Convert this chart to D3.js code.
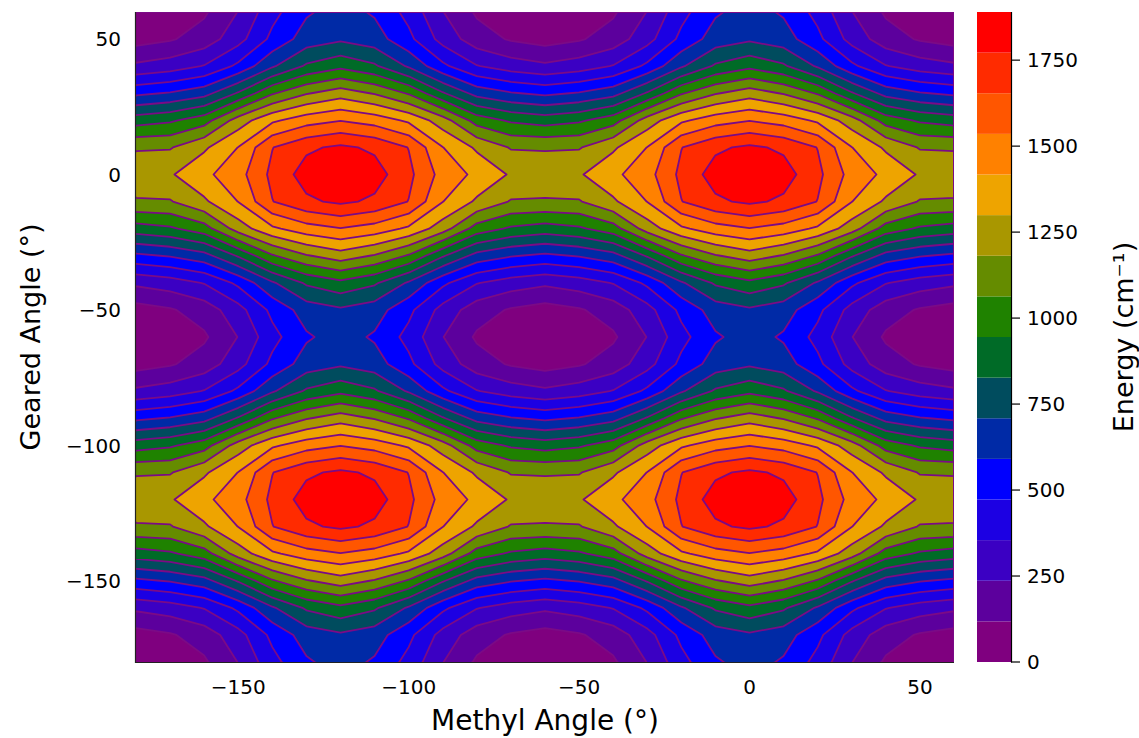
<!DOCTYPE html>
<html>
<head>
<meta charset="utf-8">
<script src="https://cdn.jsdelivr.net/npm/d3@7/dist/d3.min.js"></script>
<style>
	body { margin: 0; background: #fff; }
	text { font-family: "DejaVu Sans", sans-serif; fill: #000; }
</style>
</head>
<body>
<div id="viz"></div>
<script>
// grid axes (degrees)
methylAngles = [-180,-170,-160,-150,-140,-130,-120,-110,-100,-90,-80,-70,-60,-50,-40,-30,-20,-10,0,10,20,30,40,50,60];
gearedAngles = [-180,-170,-160,-150,-140,-130,-120,-110,-100,-90,-80,-70,-60,-50,-40,-30,-20,-10,0,10,20,30,40,50,60];

// energy (cm^-1), one row per geared angle (from -180 up to 60), one column per methyl angle
energy = [
	[0,36,101,240,434,575,640,575,434,240,101,36,0,36,101,240,434,575,640,575,434,240,101,36,0],
	[70,106,171,310,504,645,690,645,504,310,171,106,70,106,171,310,504,645,690,645,504,310,171,106,70],
	[260,296,361,500,694,845,915,845,694,500,361,296,260,296,361,500,694,845,915,845,694,500,361,296,260],
	[565,601,666,840,1050,1170,1245,1170,1050,840,666,601,565,601,666,840,1050,1170,1245,1170,1050,840,666,601,565],
	[890,926,1010,1235,1395,1485,1530,1485,1395,1235,1010,926,890,926,1010,1235,1395,1485,1530,1485,1395,1235,1010,926,890],
	[1170,1172,1280,1420,1650,1750,1795,1750,1650,1420,1280,1172,1170,1172,1280,1420,1650,1750,1795,1750,1650,1420,1280,1172,1170],
	[1250,1286,1390,1490,1684,1825,1890,1825,1684,1490,1390,1286,1250,1286,1390,1490,1684,1825,1890,1825,1684,1490,1390,1286,1250],
	[1170,1172,1280,1420,1650,1750,1795,1750,1650,1420,1280,1172,1170,1172,1280,1420,1650,1750,1795,1750,1650,1420,1280,1172,1170],
	[890,926,1010,1235,1395,1485,1530,1485,1395,1235,1010,926,890,926,1010,1235,1395,1485,1530,1485,1395,1235,1010,926,890],
	[565,601,666,840,1050,1170,1245,1170,1050,840,666,601,565,601,666,840,1050,1170,1245,1170,1050,840,666,601,565],
	[260,296,361,500,694,845,915,845,694,500,361,296,260,296,361,500,694,845,915,845,694,500,361,296,260],
	[70,106,171,310,504,645,690,645,504,310,171,106,70,106,171,310,504,645,690,645,504,310,171,106,70],
	[0,36,101,240,434,575,640,575,434,240,101,36,0,36,101,240,434,575,640,575,434,240,101,36,0],
	[70,106,171,310,504,645,690,645,504,310,171,106,70,106,171,310,504,645,690,645,504,310,171,106,70],
	[260,296,361,500,694,845,915,845,694,500,361,296,260,296,361,500,694,845,915,845,694,500,361,296,260],
	[565,601,666,840,1050,1170,1245,1170,1050,840,666,601,565,601,666,840,1050,1170,1245,1170,1050,840,666,601,565],
	[890,926,1010,1235,1395,1485,1530,1485,1395,1235,1010,926,890,926,1010,1235,1395,1485,1530,1485,1395,1235,1010,926,890],
	[1170,1172,1280,1420,1650,1750,1795,1750,1650,1420,1280,1172,1170,1172,1280,1420,1650,1750,1795,1750,1650,1420,1280,1172,1170],
	[1250,1286,1390,1490,1684,1825,1890,1825,1684,1490,1390,1286,1250,1286,1390,1490,1684,1825,1890,1825,1684,1490,1390,1286,1250],
	[1170,1172,1280,1420,1650,1750,1795,1750,1650,1420,1280,1172,1170,1172,1280,1420,1650,1750,1795,1750,1650,1420,1280,1172,1170],
	[890,926,1010,1235,1395,1485,1530,1485,1395,1235,1010,926,890,926,1010,1235,1395,1485,1530,1485,1395,1235,1010,926,890],
	[565,601,666,840,1050,1170,1245,1170,1050,840,666,601,565,601,666,840,1050,1170,1245,1170,1050,840,666,601,565],
	[260,296,361,500,694,845,915,845,694,500,361,296,260,296,361,500,694,845,915,845,694,500,361,296,260],
	[70,106,171,310,504,645,690,645,504,310,171,106,70,106,171,310,504,645,690,645,504,310,171,106,70],
	[0,36,101,240,434,575,640,575,434,240,101,36,0,36,101,240,434,575,640,575,434,240,101,36,0]
];

xTicks = [-150, -100, -50, 0, 50];
yTicks = [-150, -100, -50, 0, 50];
cbTicks = [0, 250, 500, 750, 1000, 1250, 1500, 1750];
nBands = 16;

// band colours, lowest to highest
colors = ['#7f007f','#5c009d','#3b00c3','#1c00e3','#0000fe','#002aa6','#004c5e','#006b27',
		'#1f8200','#658c00','#a99700','#eea400','#ff8100','#ff5600','#ff2b00','#ff0000'];
lineColor = '#7b0a86';

W = 1139; H = 738;
plot = {left: 136, right: 954, top: 12, bottom: 662};
cb = {left: 977, right: 1011};

svg = d3.select('#viz').append('svg')
	.attr('width', W)
	.attr('height', H);

xScale = d3.scaleLinear().domain([-180, 60]).range([plot.left, plot.right]);
yScale = d3.scaleLinear().domain([-180, 60]).range([plot.bottom, plot.top]);

nx = methylAngles.length;
ny = gearedAngles.length;
values = [];
energy.forEach(function(row){ row.forEach(function(v){ values.push(v); }); });

eMin = d3.min(values);
eMax = d3.max(values);
levels = d3.range(nBands + 1).map(function(k){ return eMin + k * (eMax - eMin) / nBands; });

// contour grid coords: grid point i sits at i + 0.5
gx = d3.scaleLinear().domain([0.5, nx - 0.5]).range([xScale(methylAngles[0]), xScale(methylAngles[nx - 1])]);
gy = d3.scaleLinear().domain([0.5, ny - 0.5]).range([yScale(gearedAngles[0]), yScale(gearedAngles[ny - 1])]);
path = d3.geoPath(d3.geoTransform({
	point: function(x, y) { this.stream.point(gx(x), gy(y)); }
}));

contours = d3.contours()
	.size([nx, ny])
	.thresholds(levels.slice(1, nBands))(values);

svg.append('clipPath').attr('id', 'clip')
	.append('rect')
	.attr('x', plot.left).attr('y', plot.top)
	.attr('width', plot.right - plot.left)
	.attr('height', plot.bottom - plot.top);

g = svg.append('g').attr('clip-path', 'url(#clip)');

g.append('rect')
	.attr('x', plot.left).attr('y', plot.top)
	.attr('width', plot.right - plot.left)
	.attr('height', plot.bottom - plot.top)
	.attr('fill', colors[0]);

g.selectAll('path.band')
	.data(contours)
	.enter()
	.append('path')
	.attr('class', 'band')
	.attr('d', path)
	.attr('fill', function(d, i){ return colors[i + 1]; });

g.selectAll('path.line')
	.data(contours)
	.enter()
	.append('path')
	.attr('class', 'line')
	.attr('d', path)
	.attr('fill', 'none')
	.attr('stroke', lineColor)
	.attr('stroke-width', 1.8)
	.attr('stroke-linejoin', 'round');

// frame
svg.append('path')
	.attr('d', 'M' + plot.left + ',' + (plot.top + 0.5) + 'H' + (plot.right - 0.5) + 'V' + plot.bottom)
	.attr('fill', 'none')
	.attr('stroke', lineColor)
	.attr('stroke-width', 1);
svg.append('path')
	.attr('d', 'M' + (plot.left - 0.5) + ',' + plot.top + 'V' + (plot.bottom + 0.5) + 'H' + plot.right)
	.attr('fill', 'none')
	.attr('stroke', '#222')
	.attr('stroke-width', 1.2);

fmt = d3.format('');

svg.selectAll('text.xtick')
	.data(xTicks)
	.enter()
	.append('text')
	.attr('class', 'xtick')
	.attr('x', function(d){ return xScale(d); })
	.attr('y', 694)
	.attr('text-anchor', 'middle')
	.style('font-size', '20px')
	.text(fmt);

svg.selectAll('text.ytick')
	.data(yTicks)
	.enter()
	.append('text')
	.attr('class', 'ytick')
	.attr('x', 121)
	.attr('y', function(d){ return yScale(d); })
	.attr('dy', '0.36em')
	.attr('text-anchor', 'end')
	.style('font-size', '20px')
	.text(fmt);

svg.append('text')
	.attr('x', (plot.left + plot.right) / 2)
	.attr('y', 730)
	.attr('text-anchor', 'middle')
	.style('font-size', '28px')
	.text('Methyl Angle (°)');

svg.append('text')
	.attr('transform', 'translate(30,' + (plot.top + plot.bottom) / 2 + ') rotate(-90)')
	.attr('dy', '0.36em')
	.attr('text-anchor', 'middle')
	.style('font-size', '27px')
	.text('Geared Angle (°)');

// colour bar
cbScale = d3.scaleLinear().domain([eMin, eMax]).range([plot.bottom, plot.top]);

svg.selectAll('rect.cb')
	.data(d3.range(nBands))
	.enter()
	.append('rect')
	.attr('class', 'cb')
	.attr('x', cb.left)
	.attr('width', cb.right - cb.left)
	.attr('y', function(k){ return cbScale(levels[k + 1]); })
	.attr('height', function(k){ return cbScale(levels[k]) - cbScale(levels[k + 1]); })
	.attr('fill', function(k){ return colors[k]; });

svg.append('line')
	.attr('x1', cb.right + 0.5).attr('x2', cb.right + 0.5)
	.attr('y1', plot.top).attr('y2', plot.bottom + 0.5)
	.attr('stroke', '#000')
	.attr('stroke-width', 1.2);

cbTickG = svg.selectAll('g.cbtick')
	.data(cbTicks)
	.enter()
	.append('g')
	.attr('class', 'cbtick')
	.attr('transform', function(d){ return 'translate(' + cb.right + ',' + cbScale(d) + ')'; });

cbTickG.append('line')
	.attr('x1', 0).attr('x2', 9)
	.attr('stroke', '#000')
	.attr('stroke-width', 1.2);

cbTickG.append('text')
	.attr('x', 16)
	.attr('dy', '0.36em')
	.style('font-size', '20px')
	.text(fmt);

svg.append('text')
	.attr('transform', 'translate(1123,' + (plot.top + plot.bottom) / 2 + ') rotate(-90)')
	.attr('dy', '0.36em')
	.attr('text-anchor', 'middle')
	.style('font-size', '27px')
	.text('Energy (cm⁻¹)');
</script>
</body>
</html>
